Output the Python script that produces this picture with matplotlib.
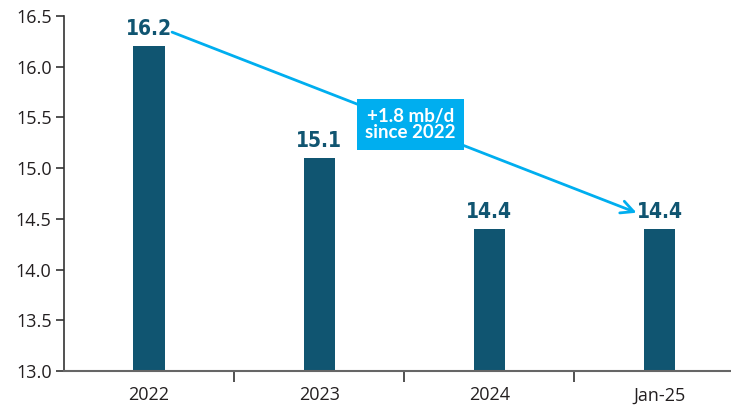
import matplotlib.pyplot as plt

categories = ["2022", "2023", "2024", "Jan-25"]
values = [16.2, 15.1, 14.4, 14.4]
y_ticks = [13.0, 13.5, 14.0, 14.5, 15.0, 15.5, 16.0, 16.5]
callout = "+1.8 mb/d\nsince 2022"

bar_color = "#105571"
accent = "#00aeef"
text_color = "#231f20"

fig = plt.figure(figsize=(7.31, 4.11), dpi=100)
ax = fig.add_axes([0.0876, 0.0973, 0.9124, 0.864])

x = list(range(len(categories)))
ax.bar(x, values, width=0.185, color=bar_color, zorder=2)

for xi, v in zip(x, values):
    ax.text(xi, v + 0.07, f"{v:.1f}", ha="center", va="bottom",
            fontsize=15, fontweight="bold", fontstretch="condensed",
            color=bar_color, family=["DejaVu Sans"])

ax.set_xlim(-0.5, 3.42)
ax.set_ylim(13.0, 16.5)
ax.set_xticks(x)
ax.set_xticklabels(categories)
ax.set_xticks([0.5, 1.5, 2.5], minor=True)
ax.tick_params(axis="x", which="major", length=0, pad=11,
               labelsize=13, labelcolor=text_color)
ax.tick_params(axis="x", which="minor", length=8, width=1.2,
               direction="out", color="#333333")
ax.set_yticks(y_ticks)
ax.set_yticklabels([f"{t:.1f}" for t in y_ticks])
ax.tick_params(axis="y", length=6, width=1.2, color="#333333",
               labelsize=13, labelcolor=text_color, pad=3)

for side in ("top", "right"):
    ax.spines[side].set_visible(False)
ax.spines["left"].set_color("#333333")
ax.spines["left"].set_linewidth(1.2)
ax.spines["bottom"].set_color("#666666")
ax.spines["bottom"].set_linewidth(1.5)

for lab in ax.get_xticklabels() + ax.get_yticklabels():
    lab.set_family(["Open Sans", "DejaVu Sans"])

# trend arrow from the 2022 label down to the latest bar
ax.annotate("", xy=(2.865, 14.56), xytext=(0.135, 16.34),
            arrowprops=dict(arrowstyle="->,head_length=0.9,head_width=0.45",
                            color=accent, lw=2, shrinkA=0, shrinkB=0),
            zorder=3)

ax.text(1.535, 15.43, callout, ha="center", va="center",
        fontsize=13.5, fontweight="bold", color="white", linespacing=0.95,
        family=["Lato", "Open Sans", "DejaVu Sans"],
        bbox=dict(boxstyle="square,pad=0.45", fc=accent, ec="none"),
        zorder=4)

fig.savefig("out.png", dpi=100)
